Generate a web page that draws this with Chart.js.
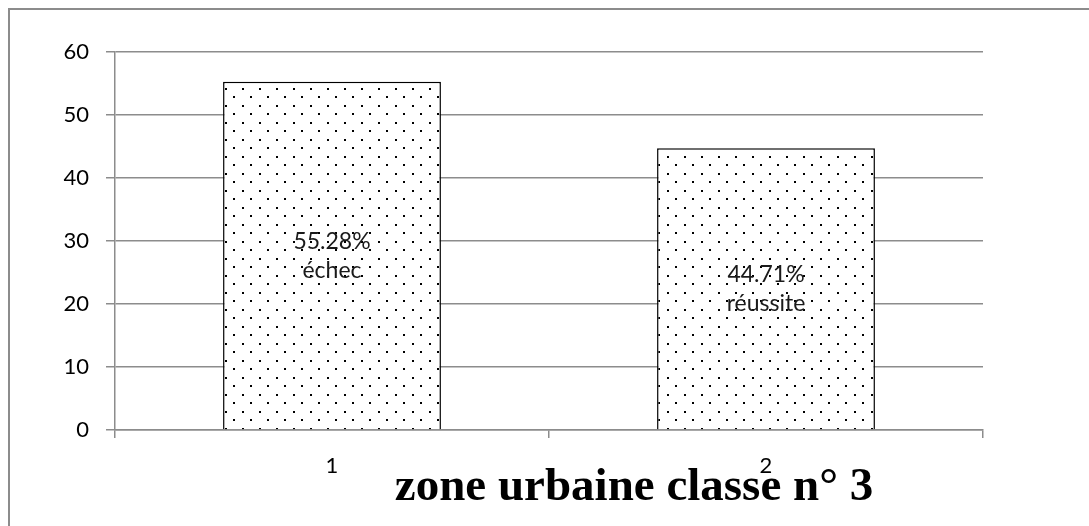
<!DOCTYPE html>
<html>
<head>
<meta charset="utf-8">
<script src="https://cdn.jsdelivr.net/npm/chart.js@4/dist/chart.umd.min.js"></script>
<style>
  html, body { margin: 0; padding: 0; background: #fff; }
  #wrap { width: 1089px; height: 526px; }
</style>
</head>
<body>
<div id="wrap"><canvas id="zoneChart" width="1089" height="526"></canvas></div>
<script>
// chart data
const categories = ['1', '2'];
const values = [55.28, 44.71];
const barLabels = [['55.28%', 'échec'], ['44.71%', 'réussite']];
const yTicks = [0, 10, 20, 30, 40, 50, 60];
const chartTitle = 'zone urbaine classe n° 3';

// dotted fill like the excel pattern
function dotPattern() {
  const c = document.createElement('canvas');
  c.width = 17; c.height = 17;
  const g = c.getContext('2d');
  g.fillStyle = '#fff';
  g.fillRect(0, 0, 17, 17);
  g.fillStyle = '#000';
  g.fillRect(4, 3, 2, 2);
  g.fillRect(12, 11, 2, 2);
  return g.createPattern(c, 'repeat');
}

const frame = {
  id: 'frame',
  beforeDraw(chart) {
    const ctx = chart.ctx;
    ctx.save();
    ctx.fillStyle = '#fff';
    ctx.fillRect(0, 0, chart.width, chart.height);
    ctx.strokeStyle = '#8c8c8c';
    ctx.lineWidth = 2;
    ctx.beginPath();
    ctx.moveTo(9, chart.height);
    ctx.lineTo(9, 9);
    ctx.lineTo(chart.width, 9);
    ctx.stroke();
    ctx.restore();
  }
};

const insideLabels = {
  id: 'insideLabels',
  afterDatasetsDraw(chart) {
    const ctx = chart.ctx;
    const meta = chart.getDatasetMeta(0);
    ctx.save();
    ctx.font = '23px Lato, "Open Sans", sans-serif';
    ctx.fillStyle = '#1a1a1a';
    ctx.textAlign = 'center';
    ctx.textBaseline = 'middle';
    meta.data.forEach((bar, i) => {
      const mid = (bar.y + bar.base) / 2;
      ctx.fillText(barLabels[i][0], bar.x, mid - 14);
      ctx.fillText(barLabels[i][1], bar.x, mid + 15);
    });
    // title sits under the axis, shifted right like in the original
    ctx.font = 'bold 47px "Liberation Serif", "Times New Roman", serif';
    ctx.fillStyle = '#000';
    ctx.fillText(chartTitle, 634, 488);
    ctx.restore();
  }
};

new Chart(document.getElementById('zoneChart').getContext('2d'), {
  type: 'bar',
  data: {
    labels: categories,
    datasets: [{
      data: values,
      backgroundColor: dotPattern(),
      borderColor: '#000',
      borderWidth: 1.5,
      categoryPercentage: 1,
      barPercentage: 0.502
    }]
  },
  options: {
    responsive: false,
    animation: false,
    devicePixelRatio: 1,
    layout: { padding: { top: 52, right: 106, left: 0, bottom: 0 } },
    plugins: { legend: { display: false }, tooltip: { enabled: false }, title: { display: false } },
    scales: {
      x: {
        offset: true,
        grid: { display: true, offset: true, drawOnChartArea: false, color: '#8c8c8c', lineWidth: 1.5, tickLength: 8 },
        border: { color: '#8c8c8c', width: 1.5 },
        ticks: { color: '#000', padding: 15, font: { family: 'Lato, "Open Sans", sans-serif', size: 22 } },
        afterFit(s) { s.height = 96; }
      },
      y: {
        min: 0, max: 60,
        afterBuildTicks(s) { s.ticks = yTicks.map(v => ({ value: v })); },
        grid: { color: '#8c8c8c', lineWidth: 1.5, tickLength: 9 },
        border: { color: '#8c8c8c', width: 1.5 },
        ticks: { color: '#000', padding: 17, font: { family: 'Lato, "Open Sans", sans-serif', size: 22 } },
        afterFit(s) { s.width = 115; }
      }
    }
  },
  plugins: [frame, insideLabels]
});
</script>
</body>
</html>
